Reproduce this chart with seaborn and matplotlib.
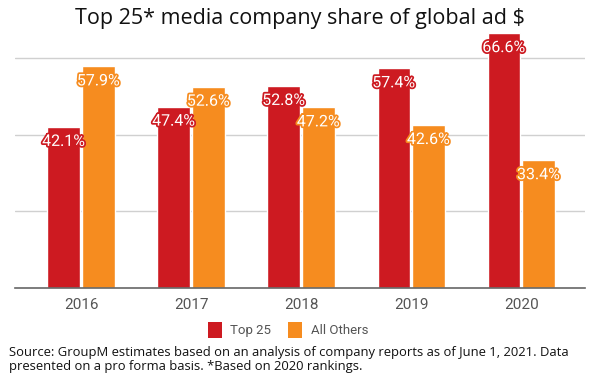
import matplotlib
matplotlib.use("Agg")
import matplotlib.pyplot as plt
import matplotlib.patheffects as pe
from matplotlib.patches import Patch
import seaborn as sns
import pandas as pd

years = ["2016", "2017", "2018", "2019", "2020"]
top25 = [42.1, 47.4, 52.8, 57.4, 66.6]
others = [57.9, 52.6, 47.2, 42.6, 33.4]
series_names = ["Top 25", "All Others"]
colors = ["#CD1A21", "#F68C1F"]

title = "Top 25* media company share of global ad $"
footer = ("Source: GroupM estimates based on an analysis of company reports as of June 1, 2021. Data\n"
          "presented on a pro forma basis. *Based on 2020 rankings.")

df = pd.DataFrame({
    "year": years * 2,
    "value": top25 + others,
    "series": [series_names[0]] * len(years) + [series_names[1]] * len(years),
})

sns.set_theme(style="white")
plt.rcParams["font.family"] = ["Roboto", "DejaVu Sans"]

fig = plt.figure(figsize=(6, 3.75), dpi=100)
ax = fig.add_axes([0.025, 0.232, 0.95, 0.684])

sns.barplot(data=df, x="year", y="value", hue="series", palette=colors,
            width=0.63, gap=0.06, saturation=1, ax=ax, legend=False)

ax.set_xlim(-0.6, 4.58)
ax.set_ylim(0, 67)
ax.set_yticks([20, 40, 60])
ax.yaxis.grid(True, color="#d0d0d0", linewidth=1)
ax.set_axisbelow(True)
ax.tick_params(axis="y", left=False, labelleft=False)
ax.tick_params(axis="x", bottom=False, labelsize=11, labelcolor="#555555", pad=1)
for s in ["top", "right", "left"]:
    ax.spines[s].set_visible(False)
ax.spines["bottom"].set_color("#666666")
ax.spines["bottom"].set_linewidth(1.2)
ax.set_xlabel("")
ax.set_ylabel("")

for cont, col in zip(ax.containers, colors):
    for bar in cont:
        h = bar.get_height()
        x = bar.get_x() + bar.get_width() / 2
        ax.annotate(f"{h:.1f}%", xy=(x, h), xytext=(0, -10.5), textcoords="offset points",
                    ha="center", va="center", fontsize=11.5, color="white",
                    path_effects=[pe.withStroke(linewidth=2.5, foreground=col)])

fig.text(0.5, 0.951, title, ha="center", va="center", fontsize=15.5,
         family=["Open Sans", "DejaVu Sans"], color="#111111")

handles = [Patch(facecolor=c, edgecolor="none") for c in colors]
fig.legend(handles, series_names, loc="center", bbox_to_anchor=(0.48, 0.12), ncol=2,
           frameon=False, fontsize=9.5, handlelength=1.05, handleheight=1.4,
           handletextpad=0.65, columnspacing=1.3, labelcolor="#555555")

fig.text(0.015, 0.042, footer, ha="left", va="center", fontsize=9.4,
         family=["Open Sans", "DejaVu Sans"], color="#111111", linespacing=1.1)

fig.savefig("out.png", dpi=100, facecolor="white")
